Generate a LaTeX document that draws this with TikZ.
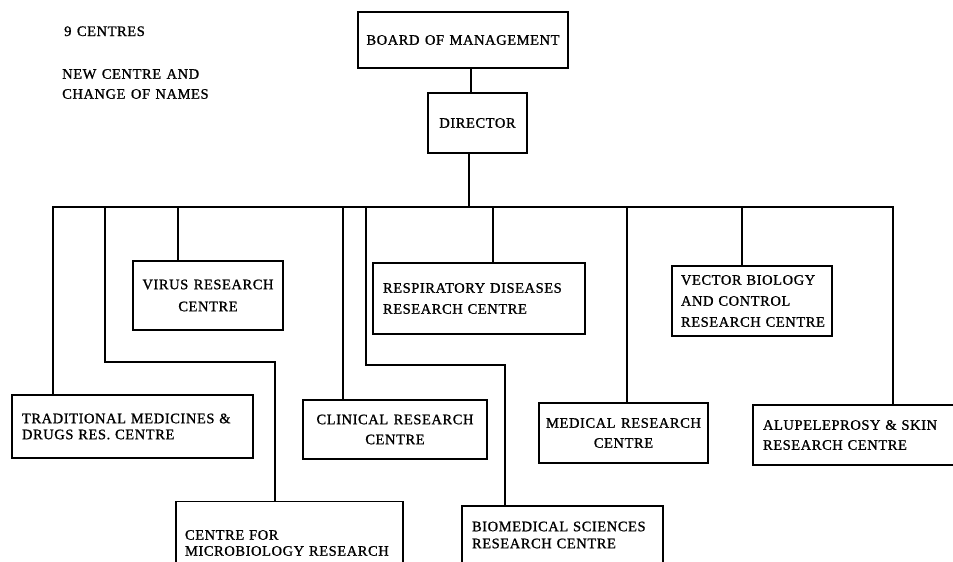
\documentclass[tikz,border=0pt]{standalone}
\usepackage{fontspec}
\setmainfont{Liberation Serif}[LetterSpace=4, FakeBold=1, WordSpace=1.3]
\hyphenpenalty=10000
\exhyphenpenalty=10000
\begin{document}
\begin{tikzpicture}[x=1pt,y=-1pt,
  bx/.style={draw, line width=1.4pt, inner sep=0pt, outer sep=0pt, rectangle},
  lft/.style={align=left},
  ctr/.style={align=center},
  lbl/.style={inner sep=0pt, font=\fontsize{14.5}{20}\selectfont},
  ln/.style={line width=1.4pt, line join=miter}]
\path[use as bounding box, fill=white] (0,0) rectangle (953,562);

% top-left notes
\node[lbl, anchor=base west] (cnt) at (64,36) {9 CENTRES};
\node[lbl, anchor=west, align=left] (nw) at (62,84) {NEW CENTRE AND\\CHANGE OF NAMES};

% boxes
\node[bx, minimum width=210pt, minimum height=56pt, font=\fontsize{14.5}{20}\selectfont] (board) at (463,40) {BOARD OF MANAGEMENT};
\node[bx, minimum width=99pt, minimum height=60pt, font=\fontsize{14.5}{20}\selectfont] (dir) at (477.5,123) {DIRECTOR};

\node[bx, ctr, minimum width=150pt, minimum height=69pt, font=\fontsize{14.5}{22}\selectfont] (virus) at (208,295.5) {VIRUS RESEARCH\\CENTRE};
\node[bx, lft, text width=192pt, minimum width=212pt, minimum height=71pt, font=\fontsize{14.5}{21}\selectfont] (resp) at (479,298.5) {\mbox{RESPIRATORY DISEASES}\\\mbox{RESEARCH CENTRE}};
\node[bx, lft, text width=142pt, minimum width=160pt, minimum height=70pt, font=\fontsize{14.5}{21}\selectfont] (vector) at (752,301) {\mbox{VECTOR BIOLOGY}\\\mbox{AND CONTROL}\\\mbox{RESEARCH CENTRE}};

\node[bx, lft, text width=221pt, minimum width=241pt, minimum height=63pt, font=\fontsize{14.5}{16}\selectfont] (trad) at (132.5,426.5) {\mbox{TRADITIONAL MEDICINES \&}\\\mbox{DRUGS RES. CENTRE}};
\node[bx, ctr, minimum width=184pt, minimum height=59pt, font=\fontsize{14.5}{20}\selectfont] (clin) at (395,429.5) {CLINICAL RESEARCH\\CENTRE};
\node[bx, ctr, minimum width=169pt, minimum height=60pt, font=\fontsize{14.5}{20}\selectfont] (med) at (623.5,433) {MEDICAL RESEARCH\\CENTRE};
\node[bx, lft, text width=192pt, minimum width=212pt, minimum height=60pt, font=\fontsize{14.5}{20}\selectfont] (alupe) at (859,435) {\mbox{ALUPELEPROSY \& SKIN}\\\mbox{RESEARCH CENTRE}};

\node[bx, lft, text width=209pt, minimum width=227pt, minimum height=83pt, font=\fontsize{14.5}{16}\selectfont] (micro) at (289.5,543) {\mbox{CENTRE FOR}\\\mbox{MICROBIOLOGY RESEARCH}};
\node[bx, lft, text width=181pt, minimum width=201pt, minimum height=58pt, font=\fontsize{14.5}{17}\selectfont] (biomed) at (562.5,535) {\mbox{BIOMEDICAL SCIENCES}\\\mbox{RESEARCH CENTRE}};

% connectors
\coordinate (jx) at (471,0);
\draw[ln] (board.south -| jx) -- (dir.north -| jx);
\coordinate (t1) at (53,207);
\coordinate (t2) at (105,207);
\coordinate (t3) at (178,207);
\coordinate (t4) at (343,207);
\coordinate (t5) at (366,207);
\coordinate (td) at (469,207);
\coordinate (t6) at (493,207);
\coordinate (t7) at (627,207);
\coordinate (t8) at (742,207);
\coordinate (t9) at (893,207);
\coordinate (k2) at (275,362);
\coordinate (k5) at (505,365);

\draw[ln] (dir.south -| td) -- (td);
\draw[ln] (t1 |- trad.north) -- (t1) -- (t9) -- (t9 |- alupe.north);
\draw[ln] (t2) |- (k2) -- (k2 |- micro.north);
\draw[ln] (t3) -- (t3 |- virus.north);
\draw[ln] (t4) -- (t4 |- clin.north);
\draw[ln] (t5) |- (k5) -- (k5 |- biomed.north);
\draw[ln] (t6) -- (t6 |- resp.north);
\draw[ln] (t7) -- (t7 |- med.north);
\draw[ln] (t8) -- (t8 |- vector.north);
\end{tikzpicture}
\end{document}
